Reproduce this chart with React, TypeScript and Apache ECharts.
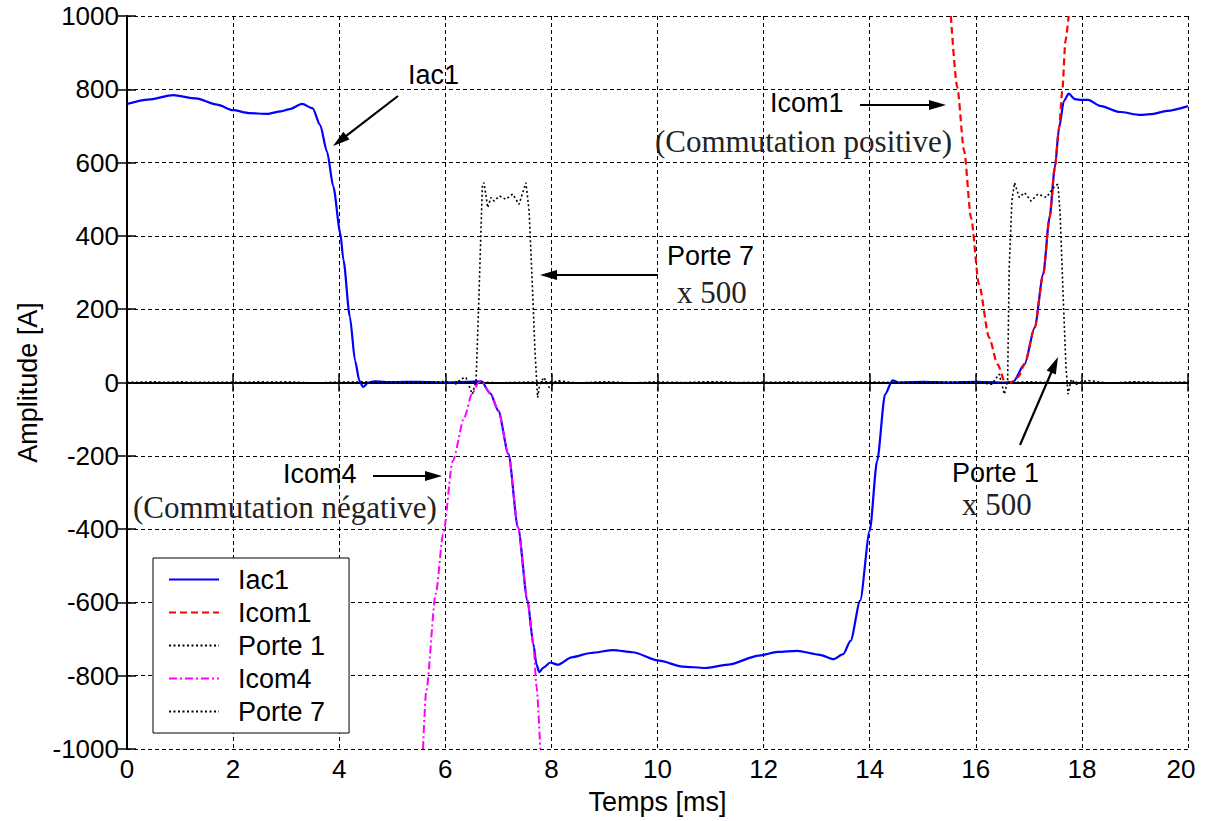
import React, { useEffect, useRef } from "react";
import * as echarts from "echarts";

// ---- data (x in ms, y in A) ----
const xTicks = [0, 2, 4, 6, 8, 10, 12, 14, 16, 18, 20];
const iac1: [number, number][] = [
  [0, 760], [0.4, 772], [0.87, 784], [1.3, 775], [1.7, 758], [2.0, 743], [2.3, 735], [2.64, 733],
  [2.9, 740], [3.07, 746], [3.3, 760], [3.5, 748], [3.64, 703], [3.77, 630], [3.89, 534], [4.02, 408],
  [4.08, 334], [4.2, 180], [4.3, 59], [4.38, 5], [4.45, -12], [4.55, 0], [4.66, 3], [5.0, 1], [5.5, 2],
  [6.0, 0], [6.4, 2], [6.68, 3], [6.85, -30], [7.0, -77], [7.19, -195], [7.37, -395], [7.55, -595],
  [7.66, -714], [7.72, -770], [7.77, -790], [7.85, -778], [7.98, -764], [8.12, -770], [8.38, -750],
  [8.74, -738], [9.17, -730], [9.53, -736], [10.03, -759], [10.47, -775], [10.9, -779], [11.33, -770],
  [11.91, -745], [12.27, -735], [12.63, -732], [13.06, -743], [13.32, -755], [13.5, -741], [13.64, -705],
  [13.82, -595], [14.0, -405], [14.14, -214], [14.29, -32], [14.43, 6], [14.55, 0], [15, 2], [15.5, 0],
  [16, 2], [16.5, 0], [16.7, 1], [16.92, 50], [17.11, 150], [17.27, 295], [17.39, 450], [17.49, 586],
  [17.57, 695], [17.66, 768], [17.75, 788], [17.87, 773], [17.99, 771], [18.12, 771], [18.34, 755],
  [18.72, 738], [19.1, 730], [19.29, 732], [19.61, 741], [20, 754],
];
const icom1: [number, number][] = [
  [15.53, 1000], [15.65, 806], [15.78, 632], [15.91, 450], [16.06, 268], [16.25, 123], [16.41, 50],
  [16.54, 5], [16.66, 0], [16.8, 15], [16.92, 50], [17.11, 150], [17.27, 295], [17.39, 450], [17.49, 586],
  [17.57, 695], [17.63, 795], [17.69, 932], [17.75, 1000],
];
const porte1: [number, number][] = [
  [0, 0], [0.5, -2], [1, 2], [1.5, -1], [2, 1], [2.5, -2], [3, 2], [3.5, -1], [4, 0], [4.5, 2], [5, -1],
  [5.5, 1], [6, -2], [6.5, 2], [7, -1], [7.5, 1], [8, 2], [8.5, -1], [9, 1], [9.5, -2], [10, 1], [10.5, 0],
  [11, 2], [11.5, -1], [12, 1], [12.5, -2], [13, 1], [13.5, 0], [14, 2], [14.5, -1], [15, 1], [15.5, -2],
  [16, 2], [16.3, -5], [16.44, 23], [16.54, -32], [16.6, 5], [16.63, 314], [16.68, 495], [16.73, 545],
  [16.82, 505], [16.92, 518], [17.04, 495], [17.17, 514], [17.33, 505], [17.49, 536], [17.55, 541],
  [17.59, 459], [17.65, 223], [17.7, 41], [17.74, -32], [17.8, 9], [17.9, -5], [18.1, 6], [18.5, -2],
  [19, 2], [19.5, -1], [20, 0],
];
const icom4: [number, number][] = [
  [5.58, -1000], [5.64, -841], [5.82, -577], [5.96, -414], [6.14, -214], [6.36, -95], [6.5, -32],
  [6.63, 0], [6.68, 3], [6.85, -30], [7.0, -77], [7.19, -195], [7.37, -395], [7.55, -595], [7.66, -714],
  [7.72, -830], [7.79, -1000],
];
const porte7: [number, number][] = [
  [0, 0], [0.5, 2], [1, -2], [1.5, 1], [2, -1], [2.5, 2], [3, 0], [3.5, -2], [4, 1], [4.5, -1], [5, 2],
  [5.5, -1], [6, 3], [6.2, -4], [6.3, 10], [6.39, 14], [6.45, -10], [6.51, -32], [6.58, 5], [6.63, 214],
  [6.67, 405], [6.7, 541], [6.73, 545], [6.8, 477], [6.86, 505], [6.92, 495], [7.02, 509], [7.14, 500],
  [7.27, 514], [7.39, 486], [7.45, 514], [7.52, 545], [7.58, 468], [7.64, 268], [7.69, 86], [7.74, -41],
  [7.78, -5], [7.86, 14], [7.96, -14], [8.1, 5], [8.5, -2], [9, 2], [9.5, -1], [10, 1], [10.5, -2],
  [11, 2], [11.5, 0], [12, -1], [12.5, 2], [13, -1], [13.5, 1], [14, -2], [14.5, 1], [15, -1], [15.5, 2],
  [16, 0], [16.5, -1], [17, 2], [17.5, -1], [18, 1], [18.5, -2], [19, 1], [19.5, 0], [20, 1],
];

const sans = "'Liberation Sans', Arial, sans-serif";
const serif = "'Liberation Serif', 'Times New Roman', serif";

function arrow(x1: number, y1: number, x2: number, y2: number) {
  const dx = x2 - x1, dy = y2 - y1;
  const L = Math.hypot(dx, dy);
  const ux = dx / L, uy = dy / L;
  const hl = 17, hw = 5;
  const bx = x2 - ux * hl, by = y2 - uy * hl;
  return [
    { type: "line", z: 100, shape: { x1, y1, x2: bx + ux * 2, y2: by + uy * 2 }, style: { stroke: "#000", lineWidth: 2.2 } },
    {
      type: "polygon", z: 100,
      shape: { points: [[x2, y2], [bx - uy * hw, by + ux * hw], [bx + uy * hw, by - ux * hw]] },
      style: { fill: "#000" },
    },
  ];
}

function label(text: string, x: number, y: number, font: string, size: number, fill = "#000") {
  return {
    type: "text", z: 100, x, y,
    style: { text, fontFamily: font, fontSize: size, fill, align: "left", verticalAlign: "middle" },
  };
}

export default function App() {
  const ref = useRef<HTMLDivElement>(null);
  useEffect(() => {
    document.body.style.margin = "0";
    const chart = echarts.init(ref.current!, undefined, { renderer: "svg" });
    const axisLine = { show: true, lineStyle: { color: "#000", width: 2 } };
    const tick = { show: true, inside: true, length: 9, lineStyle: { color: "#000", width: 1.5 } };
    const grid = { show: true, lineStyle: { color: "#000", width: 1, type: [4, 3] } };
    chart.setOption({
      animation: false,
      backgroundColor: "#fff",
      textStyle: { fontFamily: sans },
      grid: { left: 127, right: 22, top: 16, bottom: 72 },
      xAxis: [
        {
          type: "value", min: 0, max: 20, interval: 2, position: "bottom",
          name: "Temps [ms]", nameLocation: "middle", nameGap: 39,
          nameTextStyle: { fontSize: 27, color: "#000", fontFamily: sans },
          axisLine, axisTick: tick, splitLine: grid,
          axisLabel: {
            fontSize: 26, color: "#000", margin: 7, fontFamily: sans,
            formatter: (v: number) => (v === 20 ? "{b|20}" : String(v)),
            rich: {
              b: { fontSize: 26, color: "#000", fontFamily: sans, padding: [0, 14, 0, 0] },
            },
          },
        },
        {
          type: "value", min: 0, max: 20, interval: 2, position: "top",
          axisLine, axisTick: tick, splitLine: { show: false }, axisLabel: { show: false },
        },
      ],
      yAxis: [
        {
          type: "value", min: -1000, max: 1000, interval: 200, position: "left",
          name: "Amplitude [A]", nameLocation: "middle", nameGap: 86, nameRotate: 90,
          nameTextStyle: { fontSize: 27, color: "#000", fontFamily: sans },
          axisLine, axisTick: tick, splitLine: grid,
          axisLabel: { fontSize: 26, color: "#000", margin: 8, fontFamily: sans, formatter: (v: number) => String(v) },
        },
        {
          type: "value", min: -1000, max: 1000, interval: 200, position: "right",
          axisLine, axisTick: tick, splitLine: { show: false }, axisLabel: { show: false },
        },
      ],
      legend: {
        orient: "vertical", left: 153, top: 558, padding: [8, 24, 8, 15], itemGap: 6,
        itemWidth: 50, itemHeight: 14, backgroundColor: "#fff", borderColor: "#000", borderWidth: 1,
        itemStyle: { opacity: 0 },
        textStyle: { fontSize: 27, color: "#000", fontFamily: sans, padding: [0, 0, 0, 14] },
        data: ["Iac1", "Icom1", "Porte 1", "Icom4", "Porte 7"],
      },
      series: [
        {
          name: "Iac1", type: "line", data: iac1, symbol: "none", smooth: 0.25, smoothMonotone: "x",
          lineStyle: { color: "#0000ff", width: 2.2 }, itemStyle: { color: "#0000ff" },
        },
        {
          name: "Icom1", type: "line", data: icom1, symbol: "none", smooth: 0.25, smoothMonotone: "x",
          lineStyle: { color: "#ff0000", width: 2.2, type: [7, 4] }, itemStyle: { color: "#ff0000" },
        },
        {
          name: "Porte 1", type: "line", data: porte1, symbol: "none",
          lineStyle: { color: "#000", width: 1.6, type: [2, 2.5] }, itemStyle: { color: "#000" },
        },
        {
          name: "Icom4", type: "line", data: icom4, symbol: "none", smooth: 0.25, smoothMonotone: "x",
          lineStyle: { color: "#ff00ff", width: 2, type: [8, 3, 2, 3] }, itemStyle: { color: "#ff00ff" },
        },
        {
          name: "Porte 7", type: "line", data: porte7, symbol: "none",
          lineStyle: { color: "#000", width: 1.6, type: [2, 2.5] }, itemStyle: { color: "#000" },
        },
      ],
      graphic: [
        label("Iac1", 408, 75, sans, 27),
        ...arrow(398, 96, 333, 146),
        label("Icom1", 770, 103, sans, 27),
        ...arrow(860, 105, 946, 105),
        label("(Commutation positive)", 655, 141, serif, 31, "#222"),
        label("Porte 7", 667, 256, sans, 27),
        label("x 500", 677, 292, serif, 31, "#222"),
        ...arrow(658, 275, 540, 275),
        label("Icom4", 283, 474, sans, 27),
        ...arrow(373, 476, 442, 476),
        label("(Commutation négative)", 133, 507, serif, 31, "#222"),
        label("Porte 1", 952, 473, sans, 27),
        label("x 500", 962, 504, serif, 31, "#222"),
        ...arrow(1020, 445, 1058, 357),
      ],
    });
    return () => chart.dispose();
  }, []);
  return <div ref={ref} style={{ width: 1210, height: 821 }} />;
}
